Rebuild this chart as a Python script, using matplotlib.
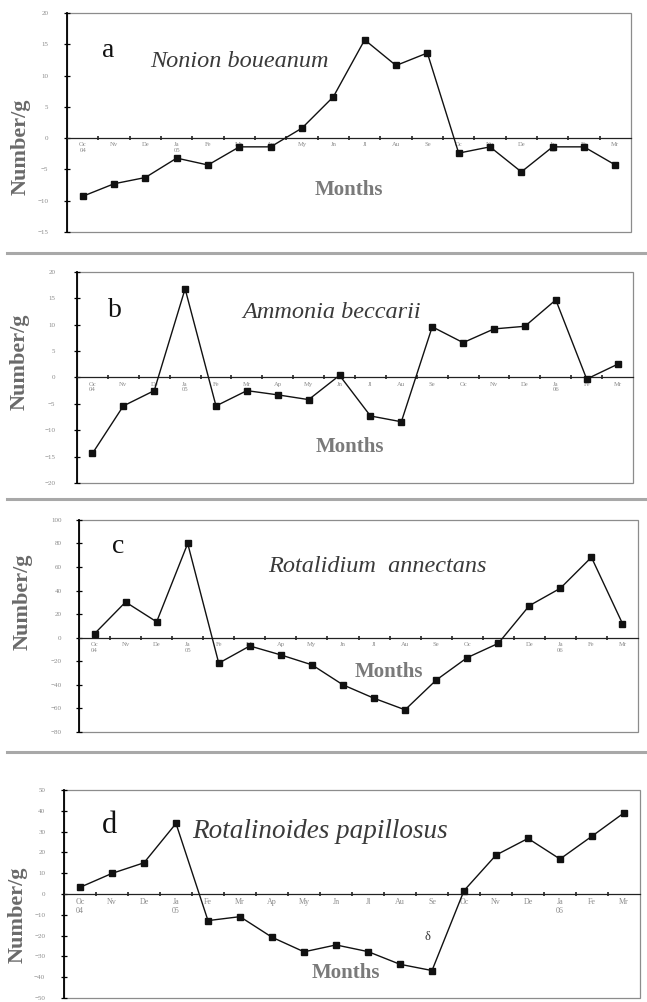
import numpy as np
import matplotlib
matplotlib.use("Agg")
import matplotlib.pyplot as plt
from matplotlib.lines import Line2D
from matplotlib.patches import Rectangle

months = ["Oc\n04", "Nv", "De", "Ja\n05", "Fe", "Mr", "Ap", "My", "Jn",
          "Jl", "Au", "Se", "Oc", "Nv", "De", "Ja\n06", "Fe", "Mr"]

# Number/g per month
nonion = [-9.3, -7.3, -6.3, -3.2, -4.3, -1.4, -1.4, 1.6, 6.6,
          15.7, 11.6, 13.6, -2.4, -1.4, -5.4, -1.4, -1.4, -4.3]
ammonia = [-14.4, -5.4, -2.5, 16.8, -5.4, -2.5, -3.3, -4.2, 0.4,
           -7.3, -8.4, 9.6, 6.6, 9.2, 9.7, 14.7, -0.3, 2.5]
rotalidium = [3.4, 30.3, 13.5, 80.0, -21.6, -7.0, -14.6, -23.0, -40.0,
              -51.4, -61.2, -36.0, -16.9, -4.8, 27.2, 42.0, 68.3, 12.0]
rotalinoides = [3.2, 9.9, 15.0, 33.9, -12.8, -10.9, -20.8, -27.8, -24.5,
                -27.7, -33.8, -36.8, 1.6, 18.7, 26.7, 16.8, 27.8, 39.0]

series = [nonion, ammonia, rotalidium, rotalinoides]
letters = ["a", "b", "c", "d"]
species = ["Nonion boueanum", "Ammonia beccarii",
           "Rotalidium  annectans", "Rotalinoides papillosus"]
ylims = [(-15, 20), (-20, 20), (-80, 100), (-50, 50)]
ysteps = [5, 5, 20, 10]

# layout (figure fractions / axes fractions)
boxes = [[0.1036, 0.7685, 0.8717, 0.2186],
         [0.1190, 0.5180, 0.8594, 0.2106],
         [0.1221, 0.2695, 0.8640, 0.2116],
         [0.0989, 0.0040, 0.8903, 0.2076]]
letter_pos = [(0.062, 0.80), (0.056, 0.787), (0.059, 0.844), (0.066, 0.793)]
letter_size = [20, 20, 20, 22]
species_pos = [(0.147, 0.753), (0.297, 0.78), (0.339, 0.755), (0.223, 0.77)]
species_size = [17.5, 17.5, 17.5, 19.5]
months_pos = [(0.50, 0.19), (0.49, 0.17), (0.554, 0.283), (0.49, 0.12)]
ylab_pos = [(-0.083, 0.39), (-0.103, 0.573), (-0.10, 0.613), (-0.08, 0.40)]
ylab_pad = [11, 13, 10, 11]
xlab_size = [4.8, 4.8, 4.8, 5.8]

serif = ["Liberation Serif", "DejaVu Serif"]

fig = plt.figure(figsize=(6.47, 10.02), dpi=100)

x = np.arange(len(months))
for i, vals in enumerate(series):
    ax = fig.add_axes(boxes[i])
    ax.plot(x, vals, color="#111111", lw=1.0, marker="s", ms=4.2,
            mfc="#111111", mec="#111111", zorder=3)
    ax.set_xlim(-0.5, len(months) - 0.5)
    ax.set_ylim(*ylims[i])
    ax.set_yticks(np.arange(ylims[i][0], ylims[i][1] + 0.1, ysteps[i]))

    # zero line doubles as the category axis
    ax.spines["bottom"].set_position(("data", 0))
    ax.spines["bottom"].set_color("#222222")
    ax.spines["bottom"].set_linewidth(0.9)
    ax.spines["left"].set_color("black")
    ax.spines["left"].set_linewidth(1.3)
    for s in ["top", "right"]:
        ax.spines[s].set_visible(False)
    ax.add_patch(Rectangle((0, 0), 1, 1, transform=ax.transAxes, fill=False,
                           ec="#8c8c8c", lw=0.9, clip_on=False, zorder=1))

    ax.set_xticks(x)
    ax.set_xticklabels(months)
    ax.set_xticks(x[:-1] + 0.5, minor=True)
    ax.tick_params(axis="x", which="major", length=0, pad=3,
                   labelsize=xlab_size[i], labelcolor="#8a8a8a")
    ax.tick_params(axis="x", which="minor", length=3, width=1.2,
                   direction="inout", color="#222222")
    ax.tick_params(axis="y", length=5, width=0.9, direction="inout",
                   pad=ylab_pad[i], labelsize=5, labelcolor="#8a8a8a")
    for lab in ax.get_xticklabels() + ax.get_yticklabels():
        lab.set_fontfamily(serif)

    ax.text(*letter_pos[i], letters[i], transform=ax.transAxes,
            fontsize=letter_size[i], family=serif, color="#111111",
            va="baseline", ha="left")
    ax.text(*species_pos[i], species[i], transform=ax.transAxes,
            fontsize=species_size[i], family=serif, style="italic",
            color="#3a3a3a", va="baseline", ha="left")
    ax.text(*months_pos[i], "Months", transform=ax.transAxes, fontsize=15,
            family=serif, weight="bold", color="#7a7a7a",
            ha="center", va="center")
    ax.text(*ylab_pos[i], "Number/g", transform=ax.transAxes, fontsize=16,
            family=serif, weight="bold", color="#6a6a6a", rotation=90,
            ha="center", va="center")

    if i == 3:
        ax.text(10.85, -20.7, "\u03b4", fontsize=9, family=serif,
                color="#333333", ha="center", va="center")

# grey rules between the panels
for yy in [1 - 253 / 1002, 1 - 499 / 1002, 1 - 752 / 1002]:
    fig.add_artist(Line2D([0.011, 1.0], [yy, yy], transform=fig.transFigure,
                          color="#a8a8a8", lw=2.2))

fig.savefig("out.png", dpi=100)
